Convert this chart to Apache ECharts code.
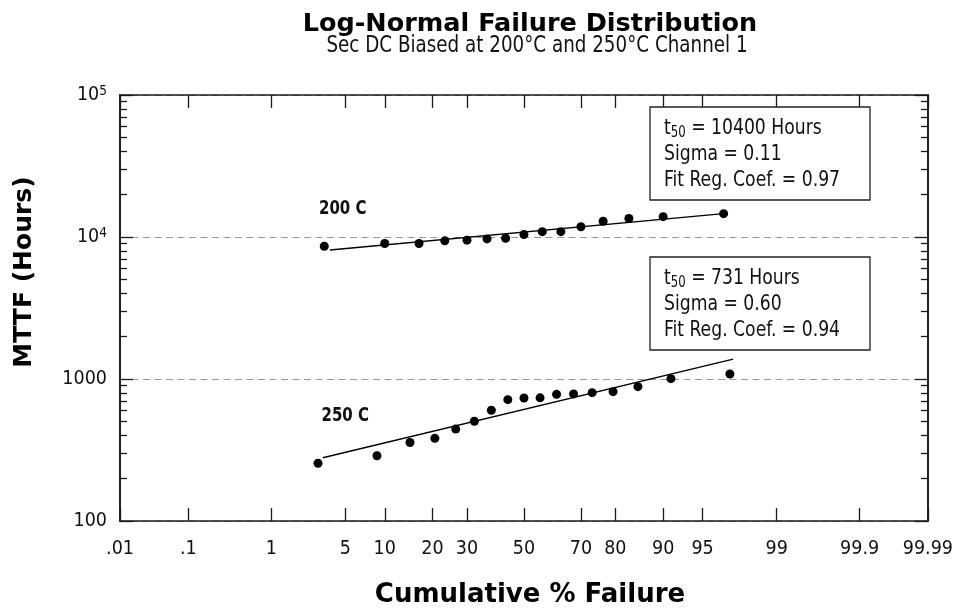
<!DOCTYPE html>
<html>
<head>
<meta charset="utf-8">
<script src="https://cdn.jsdelivr.net/npm/echarts@6/dist/echarts.min.js"></script>
<style>
  html, body { margin: 0; background: #fff; }
  #chart { width: 956px; height: 613px; }
</style>
</head>
<body>
<div id="chart"></div>
<script>
// probability axis ticks (cumulative % failure)
var pctTicks = [0.01, 0.1, 1, 5, 10, 20, 30, 50, 70, 80, 90, 95, 99, 99.9, 99.99];
var pctLabels = ['.01', '.1', '1', '5', '10', '20', '30', '50', '70', '80', '90', '95', '99', '99.9', '99.99'];
// log axis ticks (MTTF hours)
var yMajor = [100, 1000, 10000, 100000];
var yMinor = [200, 300, 400, 500, 600, 700, 800, 900,
  2000, 3000, 4000, 5000, 6000, 7000, 8000, 9000,
  20000, 30000, 40000, 50000, 60000, 70000, 80000, 90000];

// 200 C data
var pct200 = [3.3, 10, 16.7, 23.3, 30, 36.7, 43.3, 50, 56.7, 63.3, 70, 76.7, 83.3, 90, 96.7];
var mttf200 = [8600, 9000, 9000, 9400, 9500, 9700, 9800, 10400, 10900, 10900, 11800, 12900, 13500, 13900, 14600];
var fitPct200 = [3.7, 96.7];
var fitMttf200 = [8100, 14600];

// 250 C data
var pct250 = [2.9, 8.8, 14.7, 20.6, 26.5, 32.4, 38.2, 44.1, 50, 55.9, 61.8, 67.6, 73.5, 79.4, 85.3, 91.2, 97.1];
var mttf250 = [255, 288, 357, 382, 444, 504, 602, 715, 735, 737, 780, 785, 801, 814, 883, 1005, 1084];
var fitPct250 = [3.2, 97.3];
var fitMttf250 = [279, 1380];

var NARROW = "'Liberation Sans Narrow', 'DejaVu Sans Condensed', sans-serif";
var WIDE = "'DejaVu Sans', Verdana, sans-serif";

// inverse normal cdf (Acklam), used as the probability-paper scale
function probit(p) {
  var a = [-39.69683028665376, 220.9460984245205, -275.9285104469687, 138.3577518672690, -30.66479806614716, 2.506628277459239];
  var b = [-54.47609879822406, 161.5858368580409, -155.6989798598866, 66.80131188771972, -13.28068155288572];
  var c = [-0.007784894002430293, -0.3223964580411365, -2.400758277161838, -2.549732539343734, 4.374664141464968, 2.938163982698783];
  var d = [0.007784695709041462, 0.3224671290700398, 2.445134137142996, 3.754408661907416];
  var pl = 0.02425, q, r;
  if (p < pl) {
    q = Math.sqrt(-2 * Math.log(p));
    return (((((c[0]*q+c[1])*q+c[2])*q+c[3])*q+c[4])*q+c[5]) / ((((d[0]*q+d[1])*q+d[2])*q+d[3])*q+1);
  }
  if (p > 1 - pl) {
    q = Math.sqrt(-2 * Math.log(1 - p));
    return -(((((c[0]*q+c[1])*q+c[2])*q+c[3])*q+c[4])*q+c[5]) / ((((d[0]*q+d[1])*q+d[2])*q+d[3])*q+1);
  }
  q = p - 0.5; r = q * q;
  return (((((a[0]*r+a[1])*r+a[2])*r+a[3])*r+a[4])*r+a[5])*q / (((((b[0]*r+b[1])*r+b[2])*r+b[3])*r+b[4])*r+1);
}
function z(pct) { return probit(pct / 100); }

var zTicks = pctTicks.map(z);
function pairs(px, vy) { return px.map(function (p, i) { return [z(p), vy[i]]; }); }

var axisColor = '#1a1a1a';
var tickStyle = { color: axisColor, width: 1.3 };

function xAxisCfg(pos, withLabels) {
  return {
    type: 'value',
    position: pos,
    min: zTicks[0],
    max: zTicks[zTicks.length - 1],
    axisLine: { show: true, onZero: false, lineStyle: { color: axisColor, width: 1.6 } },
    axisTick: { show: true, inside: true, length: 13, customValues: zTicks, lineStyle: tickStyle },
    axisLabel: {
      show: withLabels,
      customValues: zTicks,
      margin: 18,
      color: '#111',
      fontFamily: NARROW,
      fontSize: 19.5,
      formatter: function (v) {
        for (var i = 0; i < zTicks.length; i++) {
          if (Math.abs(zTicks[i] - v) < 1e-6) return pctLabels[i];
        }
        return '';
      }
    },
    splitLine: { show: false }
  };
}

function yAxisCfg(pos, ticks, len, main) {
  return {
    type: 'log',
    logBase: 10,
    position: pos,
    min: 100,
    max: 100000,
    axisLine: { show: true, onZero: false, lineStyle: { color: axisColor, width: 1.6 } },
    axisTick: { show: true, inside: true, length: len, customValues: ticks, lineStyle: tickStyle },
    axisLabel: {
      show: main,
      customValues: yMajor,
      margin: 13,
      formatter: function (v) {
        if (v >= 10000) return '{b|10}{sup|' + Math.round(Math.log10(v)) + '}';
        return '{b|' + v + '}';
      },
      rich: {
        b: { fontFamily: NARROW, fontSize: 19.5, color: '#111', lineHeight: 22 },
        sup: { fontFamily: NARROW, fontSize: 13.5, color: '#111', lineHeight: 12, verticalAlign: 'top' }
      }
    },
    splitLine: {
      show: main,
      lineStyle: { color: '#999', width: 1, type: [7, 4.5] }
    }
  };
}

// squeezed text, to get the condensed face of the original
function label(x, y, text, size, bold, squeeze) {
  return {
    type: 'text', x: x, y: y, scaleX: squeeze, z: 101,
    style: { text: text, fontFamily: NARROW, fontWeight: bold ? 'bold' : 'normal', fontSize: size,
      fill: '#111', align: 'left', verticalAlign: 'middle' }
  };
}

function infoBox(x, y, lines) {
  return [
    {
      type: 'rect', x: x, y: y, z: 100,
      shape: { x: 0, y: 0, width: 220, height: 93 },
      style: { fill: '#fff', stroke: '#222', lineWidth: 1.3 }
    },
    {
      type: 'text', x: x + 14, y: y + 8, scaleX: 0.87, z: 101,
      style: {
        text: lines.join('\n'),
        rich: {
          t: { fontFamily: NARROW, fontSize: 22, lineHeight: 26, fill: '#111' },
          s: { fontFamily: NARROW, fontSize: 15, lineHeight: 13, verticalAlign: 'bottom', fill: '#111' }
        },
        align: 'left',
        verticalAlign: 'top'
      }
    }
  ];
}

var chart = echarts.init(document.getElementById('chart'), null, { renderer: 'canvas' });

chart.setOption({
  animation: false,
  backgroundColor: '#fff',
  grid: { left: 120, right: 20, top: 95, bottom: 92, containLabel: false },
  xAxis: [xAxisCfg('bottom', true), xAxisCfg('top', false)],
  yAxis: [
    yAxisCfg('left', yMajor, 13, true),
    yAxisCfg('left', yMinor, 7, false),
    yAxisCfg('right', yMajor, 13, false),
    yAxisCfg('right', yMinor, 7, false)
  ],
  graphic: [
    {
      type: 'text', x: 530, y: 24.5,
      style: { text: 'Log-Normal Failure Distribution', fontFamily: WIDE, fontWeight: 'bold', fontSize: 25.5,
        fill: '#000', align: 'center', verticalAlign: 'middle' }
    },
    {
      type: 'text', x: 537, y: 46, scaleX: 0.885,
      style: { text: 'Sec DC Biased at 200\u00b0C and 250\u00b0C Channel 1', fontFamily: NARROW, fontSize: 23,
        fill: '#111', align: 'center', verticalAlign: 'middle' }
    },
    {
      type: 'text', x: 24, y: 272, rotation: Math.PI / 2,
      style: { text: 'MTTF (Hours)', fontFamily: WIDE, fontWeight: 'bold', fontSize: 25,
        fill: '#000', align: 'center', verticalAlign: 'middle' }
    },
    {
      type: 'text', x: 530, y: 595,
      style: { text: 'Cumulative % Failure', fontFamily: WIDE, fontWeight: 'bold', fontSize: 26,
        fill: '#000', align: 'center', verticalAlign: 'middle' }
    },
    label(319, 209, '200 C', 19.6, true, 0.85),
    label(321.5, 415.5, '250 C', 19.6, true, 0.85)
  ].concat(
    infoBox(650, 107, ['{t|t}{s|50}{t| = 10400 Hours}', '{t|Sigma = 0.11}', '{t|Fit Reg. Coef. = 0.97}']),
    infoBox(650, 257, ['{t|t}{s|50}{t| = 731 Hours}', '{t|Sigma = 0.60}', '{t|Fit Reg. Coef. = 0.94}'])
  ),
  series: [
    {
      name: 'fit 200 C', type: 'line', data: pairs(fitPct200, fitMttf200),
      symbol: 'none', lineStyle: { color: '#000', width: 1.4 }, z: 3
    },
    {
      name: 'fit 250 C', type: 'line', data: pairs(fitPct250, fitMttf250),
      symbol: 'none', lineStyle: { color: '#000', width: 1.4 }, z: 3
    },
    {
      name: '200 C', type: 'scatter', data: pairs(pct200, mttf200),
      symbol: 'circle', symbolSize: 9, itemStyle: { color: '#000', opacity: 1 }, z: 4
    },
    {
      name: '250 C', type: 'scatter', data: pairs(pct250, mttf250),
      symbol: 'circle', symbolSize: 9, itemStyle: { color: '#000', opacity: 1 }, z: 4
    }
  ]
});
</script>
</body>
</html>
